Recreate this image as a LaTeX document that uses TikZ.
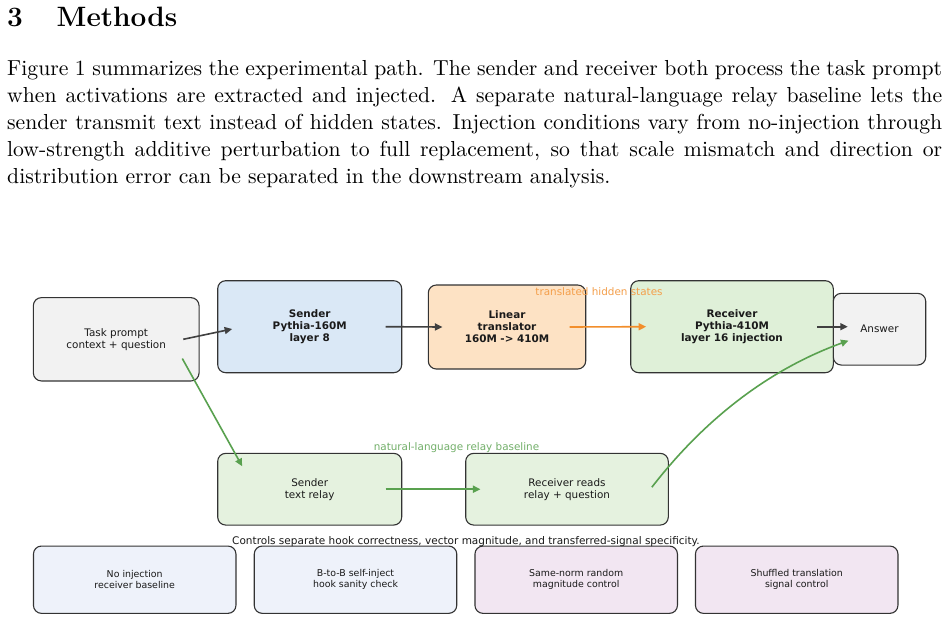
\documentclass[tikz,border=0pt]{standalone}
\usepackage{fontspec}
\newfontfamily\bodyfont{lmroman10-regular}[Extension=.otf]
\newfontfamily\headfont{lmroman12-bold}[Extension=.otf]
\newfontfamily\dejavu{DejaVu Sans}
\usetikzlibrary{arrows.meta,calc}
\definecolor{edgec}{HTML}{333333}
\definecolor{txtc}{HTML}{1A1A1A}
\definecolor{grayf}{HTML}{F2F2F2}
\definecolor{bluef}{HTML}{DAE8F6}
\definecolor{orangef}{HTML}{FDE2C4}
\definecolor{greenf}{HTML}{DFF0D8}
\definecolor{relayf}{HTML}{E5F2DF}
\definecolor{ctrlbf}{HTML}{EEF2FA}
\definecolor{ctrlpf}{HTML}{F2E6F2}
\definecolor{arrdark}{HTML}{404040}
\definecolor{arrorange}{HTML}{F28E2B}
\definecolor{arrgreen}{HTML}{59A14F}
\tikzset{
  box/.style={draw=edgec, line width=1.1pt, rounded corners=8pt, inner sep=0pt,
    align=center, text=txtc, font=\dejavu\fontsize{10.4}{12}\selectfont},
  boldbox/.style={box, font=\dejavu\bfseries\fontsize{10.4}{12}\selectfont},
  ctrlbox/.style={box, minimum width=202.5pt, minimum height=67.3pt,
    font=\dejavu\fontsize{9.4}{10.8}\selectfont},
  arr/.style={line width=1.6pt, -{Triangle[length=7.5pt,width=7pt]}},
  lbl/.style={inner sep=0pt, font=\dejavu\fontsize{10.4}{12}\selectfont}
}
\begin{document}
\begin{tikzpicture}[x=1pt,y=-1pt]
\useasboundingbox (0,0) rectangle (948,621);
\fill[white] (0,0) rectangle (948,621);

% heading and paragraph
\node[anchor=base west, inner sep=0pt, font=\headfont\fontsize{28}{34}\selectfont] (headnum) at (7,26) {3};
\node[anchor=base west, inner sep=0pt, font=\headfont\fontsize{28}{34}\selectfont] (head) at (56.5,26) {Methods};
\node[anchor=north west, inner sep=0pt, text width=935pt, align=justify,
  font=\bodyfont\fontsize{21.7}{27}\selectfont] (para) at (7,60.5)
 {\hyphenpenalty=10000 Figure 1 summarizes the experimental path. The sender and receiver both process the task prompt when activations are extracted and injected. A separate natural-language relay baseline lets the sender transmit text instead of hidden states. Injection conditions vary from no-injection through low-strength additive perturbation to full replacement, so that scale mismatch and direction or distribution error can be separated in the downstream analysis.};

% main row
\node[box, fill=grayf, minimum width=165.7pt, minimum height=83.3pt] (task) at (116.2,339.3) {Task prompt\\context + question};
\node[boldbox, fill=bluef, minimum width=184pt, minimum height=92pt] (sender) at (309.7,326.7) {Sender\\Pythia-160M\\layer 8};
\node[boldbox, fill=orangef, minimum width=157.4pt, minimum height=84pt] (linear) at (507,327) {Linear\\translator\\160M -> 410M};
\node[boldbox, fill=greenf, minimum width=202.6pt, minimum height=92pt] (receiver) at (732,326.7) {Receiver\\Pythia-410M\\layer 16 injection};
\node[box, fill=grayf, minimum width=92.4pt, minimum height=71.7pt] (answer) at (879.5,329.2) {Answer};

% relay row
\node[box, fill=relayf, minimum width=184pt, minimum height=71.7pt] (relay) at (309.7,489.2) {Sender\\text relay};
\node[box, fill=relayf, minimum width=202.6pt, minimum height=71.7pt] (reads) at (567,489.2) {Receiver reads\\relay + question};

% controls row
\node[ctrlbox, fill=ctrlbf] (c1) at (134.7,579.7) {No injection\\receiver baseline};
\node[ctrlbox, fill=ctrlbf] (c2) at (355.5,579.7) {B-to-B self-inject\\hook sanity check};
\node[ctrlbox, fill=ctrlpf] (c3) at (576.2,579.7) {Same-norm random\\magnitude control};
\node[ctrlbox, fill=ctrlpf] (c4) at (796.7,579.7) {Shuffled translation\\signal control};

% labels
\node[lbl, text=arrorange!85!white] (lblhid) at (599,291.7) {translated hidden states};
\node[lbl, text=arrgreen!85!white] (lblnat) at (456.5,447.3) {natural-language relay baseline};
\node[lbl, text=txtc, font=\dejavu\fontsize{10.5}{12}\selectfont] (lblctrl) at (466,541.7) {Controls separate hook correctness, vector magnitude, and transferred-signal specificity.};

% connectors
\draw[arr, arrdark] ($(task.east)+(-16.3,0)$) -- ($(sender.west)+(15,2.3)$);
\draw[arr, arrdark] ($(sender.east)+(-16.7,0)$) -- ($(linear.west)+(14.7,0)$);
\draw[arr, arrorange] ($(linear.east)+(-16.7,0)$) -- ($(receiver.west)+(16,0)$);
\draw[arr, arrdark] ($(receiver.east)+(-16.6,0)$) -- ($(answer.west)+(15,-2.5)$);
\draw[arr, arrgreen] ($(task.south east)+(-17.3,-23)$) -- ($(relay.north west)+(25,13.4)$);
\draw[arr, arrgreen] ($(relay.east)+(-16.7,0)$) -- ($(reads.west)+(15.3,0)$);
\draw[arr, arrgreen] ($(reads.east)+(-17,-2)$) .. controls +(54.4,-70.2) and +(-77.3,28) .. ($(answer.south west)+(15.7,-25)$);
\end{tikzpicture}
\end{document}
